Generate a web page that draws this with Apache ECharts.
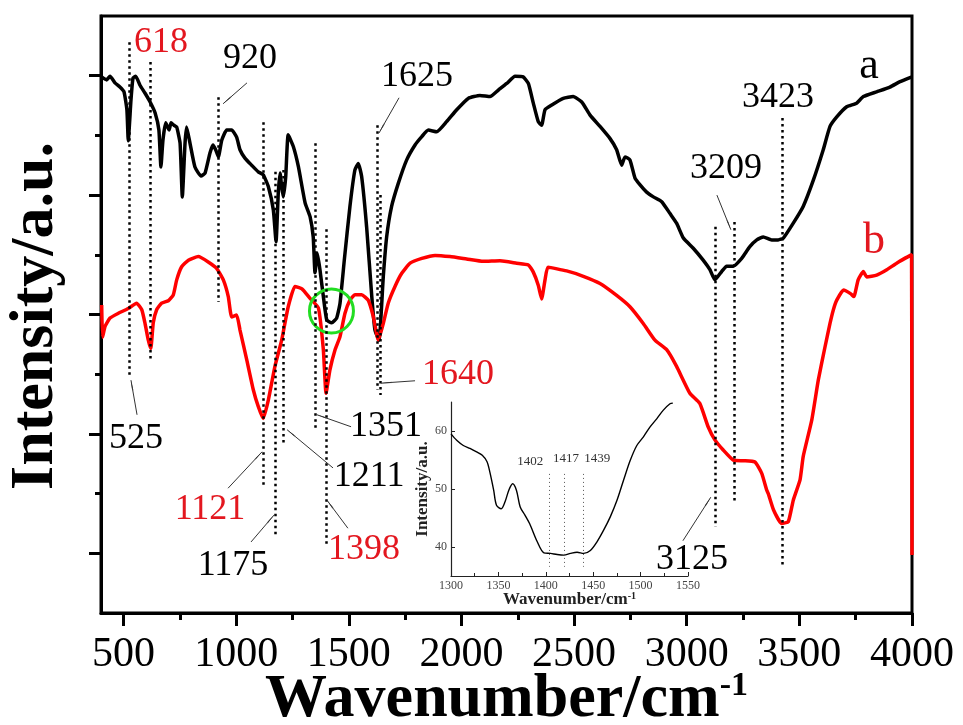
<!DOCTYPE html>
<html>
<head>
<meta charset="utf-8">
<title>FTIR spectra</title>
<script src="https://cdn.jsdelivr.net/npm/echarts@6/dist/echarts.min.js"></script>
<style>
  html, body { margin: 0; padding: 0; background: #fff; }
  #chart { width: 963px; height: 725px; }
</style>
</head>
<body>
<div id="chart"></div>
<script>
// axis ticks
var xMajor = [500, 1000, 1500, 2000, 2500, 3000, 3500, 4000];
var xMinor = [750, 1250, 1750, 2250, 2750, 3250, 3750];
var yMajor = [10, 30, 50, 70, 90];
var yMinor = [20, 40, 60, 80];

// spectrum a (black)
var waveA = [403,425,440,462,484,502,515,521,533,542,554,573,595,618,640,657,666,675,687,702,711,724,736,751,761,773,780,795,817,844,862,884,897,909,921,936,958,980,1002,1017,1039,1069,1098,1120,1143,1165,1177,1187,1195,1202,1209,1220,1231,1254,1276,1306,1328,1342,1350,1360,1372,1387,1402,1424,1446,1461,1480,1505,1527,1542,1557,1579,1602,1616,1634,1653,1668,1690,1720,1757,1794,1824,1853,1890,1934,1979,2030,2082,2127,2164,2201,2238,2274,2297,2319,2341,2356,2371,2401,2452,2496,2534,2571,2615,2659,2689,2711,2726,2748,2770,2793,2822,2852,2889,2926,2955,2985,3029,3073,3103,3125,3155,3177,3207,3244,3281,3311,3340,3377,3406,3429,3473,3517,3562,3606,3636,3666,3710,3754,3784,3843,3902,3947,4000];
var intensityA = [89.8,89.3,89.9,88.8,88.1,87.3,84.3,79.1,85.9,89.6,89.9,88.4,87.1,85.6,83.8,80.9,74.7,79.2,82.1,80.9,82.1,81.7,81.4,78.7,69.7,78.7,81.4,78.7,74.7,73.2,73.7,77.1,78.4,77.6,76.4,79.2,80.9,80.9,79.7,77.6,76.2,75.0,73.9,73.4,71.4,67.5,62.2,70.4,73.7,71.4,69.7,73.1,80.1,78.1,74.8,68.7,66.4,63.0,57.0,60.3,57.5,53.0,49.1,48.6,49.4,51.9,59.1,68.1,74.2,75.3,73.1,64.7,53.0,47.4,45.7,56.3,63.0,68.1,72.0,75.9,78.4,79.8,80.9,80.6,82.3,84.3,86.2,86.7,86.5,87.6,88.7,89.9,89.8,88.7,85.4,82.3,81.7,84.3,85.1,86.2,86.5,85.6,83.4,81.5,79.5,77.6,75.0,76.4,75.9,72.9,71.7,70.5,69.7,68.9,66.9,65.3,62.8,61.1,59.1,57.5,55.8,57.2,58.1,58.1,59.4,61.4,62.5,63.0,62.5,62.5,62.8,65.3,68.1,72.5,77.6,81.5,83.1,84.8,85.4,86.5,87.3,88.1,89.0,89.8];

// spectrum b (red)
var waveB = [403,407,418,440,477,521,558,581,595,610,621,632,647,669,699,721,736,758,788,832,876,914,943,965,980,1002,1017,1047,1076,1098,1120,1143,1172,1202,1231,1261,1292,1328,1365,1387,1399,1416,1439,1461,1483,1505,1527,1557,1586,1609,1631,1653,1675,1705,1735,1772,1824,1883,1949,2023,2097,2171,2245,2297,2319,2341,2356,2371,2384,2467,2541,2615,2689,2748,2807,2859,2911,2955,3014,3058,3095,3125,3162,3207,3251,3303,3333,3355,3362,3385,3421,3451,3473,3503,3517,3555,3584,3614,3636,3651,3666,3696,3727,3742,3761,3784,3799,3843,3888,3932,3998,4000];
var intensityB = [51.6,46.2,48.0,49.4,50.2,51.0,51.9,50.8,48.6,45.7,44.3,48.6,50.8,51.9,52.3,53.3,55.8,58.0,59.1,59.7,58.8,57.7,55.8,53.0,49.6,49.9,47.4,42.4,37.4,34.6,32.6,35.7,41.3,45.7,51.3,54.7,54.3,52.7,51.1,44.1,36.8,40.7,44.1,46.3,50.2,52.4,53.3,53.3,52.4,49.6,45.7,48.5,51.9,54.7,56.9,58.6,59.4,59.9,59.7,59.3,58.9,59.0,58.6,58.3,57.1,54.9,52.6,55.8,57.9,57.3,56.4,55.2,53.2,51.3,48.5,45.7,44.1,41.3,36.8,35.1,31.2,29.0,27.3,25.6,25.5,25.3,23.4,20.6,20.0,17.3,15.0,15.3,18.9,22.3,26.2,32.3,39.0,44.6,48.5,50.8,52.4,54.1,53.5,53.0,55.8,57.2,56.3,56.6,57.5,58.6,60.0,9.7];

// inset: zoom of a around 1400
var insetWave = [1300,1306,1313,1320,1327,1333,1338,1341,1345,1348,1353,1357,1361,1365,1369,1373,1378,1383,1391,1398,1405,1412,1419,1426,1433,1440,1447,1454,1461,1468,1475,1482,1489,1496,1503,1510,1517,1524,1531,1534];
var insetIntensity = [59.5,58.4,57.5,57.0,56.4,55.8,54.7,52.9,49.8,47.2,46.6,47.8,49.8,50.9,49.8,46.9,45.5,44.0,40.9,39.0,38.9,38.7,38.6,38.9,39.1,38.9,39.4,40.9,42.9,45.2,48.0,51.5,54.9,57.5,59.0,60.7,62.1,63.6,64.7,64.8];
var insetPeaks = [1402, 1417, 1439];

// assigned bands
var peakWaves = [525, 618, 920, 1121, 1175, 1211, 1351, 1398, 1625, 1640, 3125, 3209, 3423];
var peakRed = [false, true, false, true, false, false, false, true, false, true, false, false, false];

// annotation layout (data units)
var guideTop = [95.6, 92.3, 86.4, 82.2, 73.9, 74.2, 78.7, 64.3, 81.7, 70.0, 64.7, 65.5, 82.9];
var guideBottom = [39.9, 42.4, 52.1, 20.9, 12.7, 28.5, 30.7, 11.4, 37.4, 36.5, 14.4, 18.4, 8.0];
var labelPos = [[555,29.3],[666,95.6],[1061,92.8],[884,17.3],[986,8.0],[1590,22.9],[1665,31.2],[1567,10.7],[1803,89.9],[1985,39.9],[3023,8.9],[3174,74.5],[3405,86.4]];
var arrowPos = [
  [[560,33.2],[533,39.0]], null, [[1048,88.8],[942,85.3]], [[964,20.9],[1115,27.0]],
  [[1066,11.9],[1168,16.4]], [[1430,24.3],[1226,30.7]], [[1510,31.2],[1359,33.2]],
  [[1496,14.2],[1403,18.9]], [[1723,86.3],[1634,80.4]], [[1794,38.9],[1643,38.5]],
  [[2983,12.1],[3107,19.4]], [[3134,70.0],[3196,64.2]], null
];

var F = 'Liberation Serif';
var RED = '#ff0000';
var RED_TEXT = '#e3171f';

function zip(xs, ys) {
  return xs.map(function (x, i) { return [x, ys[i]]; });
}
function plain(v) { return String(v); }

var guides = peakWaves.map(function (w, i) {
  return [{ coord: [w, guideTop[i]] }, { coord: [w, guideBottom[i]] }];
});
var arrows = [];
arrowPos.forEach(function (a) {
  if (a) arrows.push([{ coord: a[0] }, { coord: a[1] }]);
});
var labels = peakWaves.map(function (w, i) {
  return {
    value: labelPos[i], name: String(w),
    label: { color: peakRed[i] ? RED_TEXT : '#000' }
  };
});
labels.push({ value: [3809, 91.6], name: 'a', label: { color: '#000', fontSize: 44 } });
labels.push({ value: [3831, 62.3], name: 'b', label: { color: RED_TEXT, fontSize: 44 } });

var insetLabelPos = [[1383.6, 54.8], [1421.2, 55.3], [1454.3, 55.3]];
var insetGuideX = [1404, 1419, 1440];

var chart = echarts.init(document.getElementById('chart'), null, { renderer: 'canvas' });

chart.setOption({
  animation: false,
  backgroundColor: '#fff',
  grid: [
    { left: 101, top: 16, width: 811, height: 597, show: true, borderColor: '#000', borderWidth: 3,
      backgroundColor: 'transparent', containLabel: false, outerBoundsMode: 'none' },
    { left: 451, top: 402, width: 237, height: 174, show: false, containLabel: false, outerBoundsMode: 'none' }
  ],
  xAxis: [
    {
      gridIndex: 0, type: 'value', min: 400, max: 4000, position: 'bottom',
      axisLine: { lineStyle: { color: '#000', width: 3 } },
      axisTick: { customValues: xMajor, length: 13, lineStyle: { color: '#000', width: 3 } },
      axisLabel: { customValues: xMajor, formatter: plain, fontSize: 42, fontFamily: F, color: '#000', margin: 21 },
      splitLine: { show: false },
      name: '{a|Wavenumber/cm}{b|-1}', nameLocation: 'middle', nameGap: 56, nameMoveOverlap: false,
      nameTextStyle: {
        rich: {
          a: { fontSize: 62, fontWeight: 'bold', fontFamily: F, color: '#000' },
          b: { fontSize: 34, fontWeight: 'bold', fontFamily: F, color: '#000', verticalAlign: 'top' }
        }
      }
    },
    {
      gridIndex: 0, type: 'value', min: 400, max: 4000, position: 'bottom',
      axisLine: { show: false },
      axisTick: { customValues: xMinor, length: 7, lineStyle: { color: '#000', width: 3 } },
      axisLabel: { show: false },
      splitLine: { show: false }
    },
    {
      gridIndex: 1, type: 'value', min: 1300, max: 1550, interval: 50,
      axisLine: { lineStyle: { color: '#222', width: 1.2 } },
      axisTick: { inside: true, length: 4, lineStyle: { color: '#222', width: 1 } },
      minorTick: { show: true, splitNumber: 2, length: 3, lineStyle: { color: '#222', width: 1 } },
      axisLabel: { formatter: plain, fontSize: 12, fontFamily: F, color: '#444', margin: 4 },
      splitLine: { show: false },
      name: '{a|Wavenumber/cm}{b|-1}', nameLocation: 'middle', nameGap: 15, nameMoveOverlap: false,
      nameTextStyle: {
        rich: {
          a: { fontSize: 17, fontWeight: 'bold', fontFamily: F, color: '#222' },
          b: { fontSize: 10, fontWeight: 'bold', fontFamily: F, color: '#222', verticalAlign: 'top' }
        }
      }
    }
  ],
  yAxis: [
    {
      gridIndex: 0, type: 'value', min: 0, max: 100,
      axisLine: { lineStyle: { color: '#000', width: 3 } },
      axisTick: { customValues: yMajor, length: 12, lineStyle: { color: '#000', width: 3 } },
      axisLabel: { show: false },
      splitLine: { show: false }
    },
    {
      gridIndex: 0, type: 'value', min: 0, max: 100, position: 'left',
      axisLine: { show: false },
      axisTick: { customValues: yMinor, length: 6, lineStyle: { color: '#000', width: 3 } },
      axisLabel: { show: false },
      splitLine: { show: false }
    },
    {
      gridIndex: 1, type: 'value', min: 35, max: 65,
      axisLine: { show: true, lineStyle: { color: '#222', width: 1.2 } },
      axisTick: { show: true, inside: true, customValues: [40, 50, 60], length: 4, lineStyle: { color: '#222' } },
      axisLabel: { customValues: [40, 50, 60], formatter: plain, fontSize: 12, fontFamily: F, color: '#444', margin: 4 },
      splitLine: { show: false },
      name: 'Intensity/a.u.', nameLocation: 'middle', nameGap: 20, nameMoveOverlap: false,
      nameTextStyle: { fontSize: 17, fontWeight: 'bold', fontFamily: F, color: '#222' }
    }
  ],
  graphic: [
    {
      type: 'text', x: 36, y: 316, rotation: Math.PI / 2,
      style: {
        text: 'Intensity/a.u.', font: 'bold 62px "Liberation Serif"', fill: '#000',
        align: 'center', verticalAlign: 'middle'
      }
    }
  ],
  series: [
    {
      name: 'a', type: 'line', xAxisIndex: 0, yAxisIndex: 0,
      data: zip(waveA, intensityA), showSymbol: false, smooth: 0.15,
      lineStyle: { color: '#000', width: 3.5 }, z: 3,
      markLine: {
        silent: true, symbol: ['none', 'none'], animation: false,
        label: { show: false },
        lineStyle: { color: '#000', width: 2.5, type: [2.5, 3.5] },
        data: guides
      }
    },
    {
      name: 'b', type: 'line', xAxisIndex: 0, yAxisIndex: 0,
      data: zip(waveB, intensityB), showSymbol: false, smooth: 0.15,
      lineStyle: { color: RED, width: 3.5 }, z: 3,
      markLine: {
        silent: true, symbol: ['none', 'arrow'], symbolSize: [1, 11], animation: false,
        label: { show: false },
        lineStyle: { color: '#333', width: 1, type: 'solid' },
        data: arrows
      }
    },
    {
      name: 'labels', type: 'scatter', xAxisIndex: 0, yAxisIndex: 0,
      data: labels, symbolSize: 1, silent: true, z: 5,
      itemStyle: { color: 'transparent', opacity: 1 },
      label: {
        show: true, position: 'inside', fontSize: 36, fontFamily: F, opacity: 1,
        textBorderWidth: 0,
        formatter: function (p) { return p.name; }
      }
    },
    {
      name: 'highlight', type: 'scatter', xAxisIndex: 0, yAxisIndex: 0,
      data: [[1423, 50.6]], symbol: 'circle', symbolSize: 44, silent: true, z: 4,
      itemStyle: { color: 'transparent', borderColor: '#22dd22', borderWidth: 3, opacity: 1 }
    },
    {
      name: 'inset', type: 'line', xAxisIndex: 2, yAxisIndex: 2,
      data: zip(insetWave, insetIntensity), showSymbol: false, smooth: 0.3,
      lineStyle: { color: '#000', width: 1.4 },
      markLine: {
        silent: true, symbol: ['none', 'none'], animation: false,
        label: { show: false },
        lineStyle: { color: '#555', width: 1, type: [1, 3] },
        data: insetGuideX.map(function (w) {
          return [{ coord: [w, 52.6] }, { coord: [w, 36.6] }];
        })
      }
    },
    {
      name: 'insetLabels', type: 'scatter', xAxisIndex: 2, yAxisIndex: 2,
      data: insetPeaks.map(function (p, i) { return { value: insetLabelPos[i], name: String(p) }; }),
      symbolSize: 1, silent: true, itemStyle: { color: 'transparent', opacity: 1 },
      label: {
        show: true, position: 'inside', fontSize: 13, fontFamily: F, color: '#333', opacity: 1,
        textBorderWidth: 0,
        formatter: function (p) { return p.name; }
      }
    }
  ]
});
</script>
</body>
</html>
